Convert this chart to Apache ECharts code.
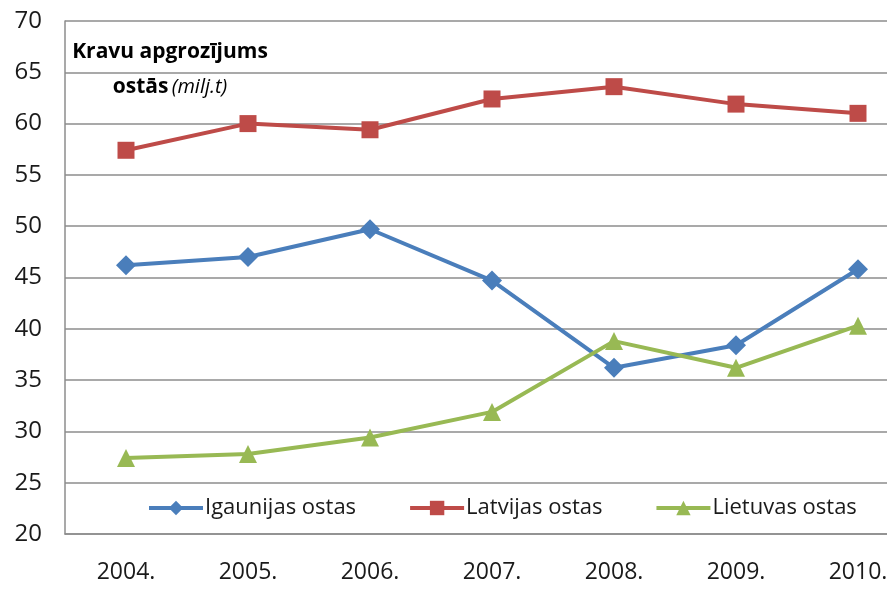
<!DOCTYPE html>
<html><head><meta charset="utf-8">
<script src="https://cdn.jsdelivr.net/npm/echarts@6/dist/echarts.min.js"></script>
<style>html,body{margin:0;padding:0;background:#fff;overflow:hidden;width:887px;height:592px}#c{width:919px;height:592px}</style>
</head><body><div id="c"></div>
<script>
const years = ['2004.', '2005.', '2006.', '2007.', '2008.', '2009.', '2010.'];
const igaunija = [46.2, 47.0, 49.7, 44.7, 36.2, 38.4, 45.8];
const latvija = [57.4, 60.0, 59.4, 62.4, 63.6, 61.9, 61.0];
const lietuva = [27.4, 27.8, 29.4, 31.9, 38.8, 36.2, 40.3];
const seriesNames = ['Igaunijas ostas', 'Latvijas ostas', 'Lietuvas ostas'];
const titleLine1 = 'Kravu apgrozījums';
const titleLine2a = 'ostās';
const titleLine2b = '(milj.t)';

const FONT = '"Open Sans", "Noto Sans", sans-serif';
const chart = echarts.init(document.getElementById('c'));
const mk = (name, data, color, symbol, size) => ({
  name, type: 'line', data, symbol, symbolSize: size,
  lineStyle: { color, width: 4 }, itemStyle: { color },
  emphasis: { disabled: true }
});
chart.setOption({
  animation: false,
  textStyle: { fontFamily: FONT },
  grid: { left: 65, right: 0, top: 21, bottom: 58, containLabel: false },
  xAxis: {
    type: 'category', data: years, boundaryGap: true,
    axisLine: { lineStyle: { color: '#8c8c8c', width: 1.5 } },
    axisTick: { show: false },
    axisLabel: { fontSize: 23, color: '#1a1a1a', margin: 27, fontFamily: FONT }
  },
  yAxis: {
    type: 'value', min: 20, max: 70, interval: 5,
    axisLine: { show: true, lineStyle: { color: '#8c8c8c', width: 1.5 } },
    axisTick: { show: false },
    splitLine: { lineStyle: { color: '#8c8c8c', width: 1.5 } },
    axisLabel: { fontSize: 24, color: '#1a1a1a', margin: 23, fontFamily: FONT }
  },
  legend: {
    left: 142, top: 492, itemWidth: 54, itemHeight: 18, itemGap: 52,
    lineStyle: { width: 4 },
    textStyle: { fontSize: 22, color: '#1a1a1a', fontFamily: FONT, padding: [0, 0, 0, -3] },
    data: seriesNames
  },
  graphic: [
    { type: 'text', x: 170, y: 52, style: { text: titleLine1, fill: '#000', font: 'bold 21px ' + FONT, align: 'center', verticalAlign: 'middle' } },
    { type: 'text', x: 170, y: 87, style: {
        text: '{b|' + titleLine2a + '} {i|' + titleLine2b + '}', align: 'center', verticalAlign: 'middle',
        rich: { b: { font: 'bold 21px ' + FONT, fill: '#000' }, i: { font: 'italic 20px ' + FONT, fill: '#000' } } } }
  ],
  series: [
    mk(seriesNames[0], igaunija, '#4a7ebb', 'diamond', 20),
    mk(seriesNames[1], latvija, '#be4b48', 'rect', 17),
    mk(seriesNames[2], lietuva, '#98b954', 'triangle', 18)
  ]
});
</script></body></html>
